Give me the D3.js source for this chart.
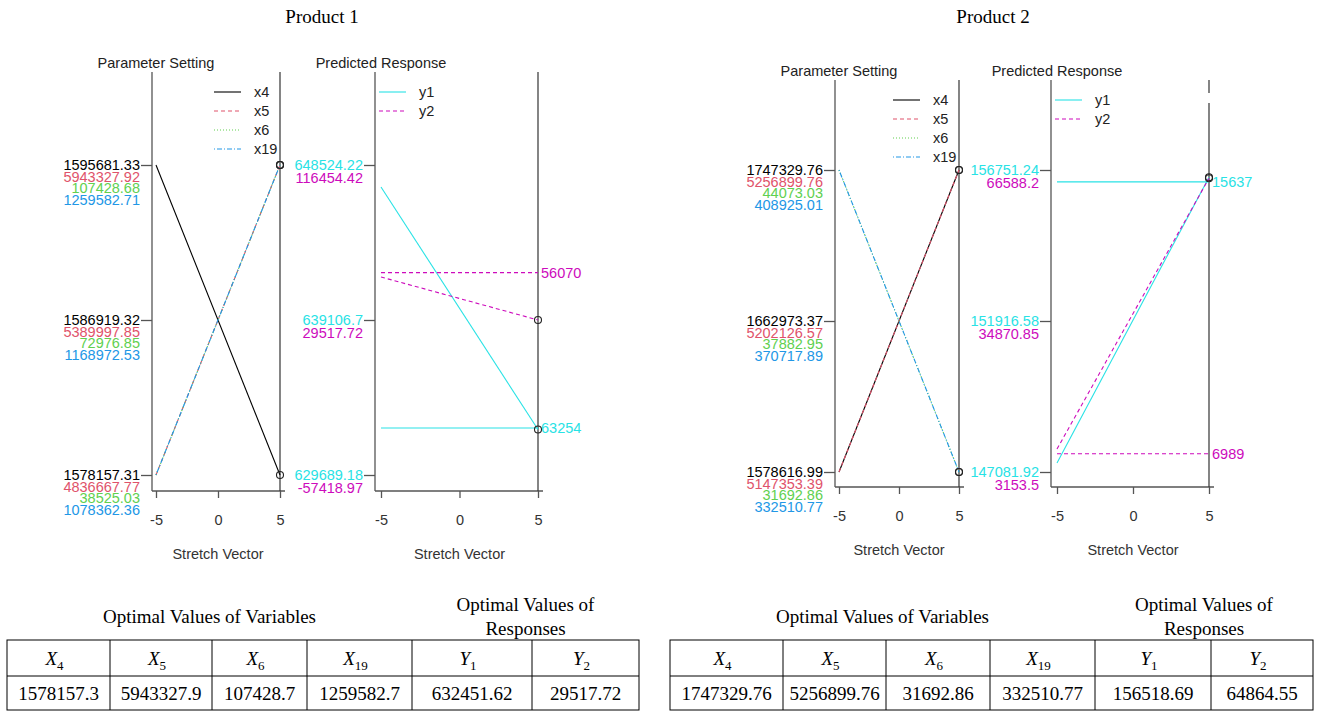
<!DOCTYPE html>
<html>
<head>
<meta charset="utf-8">
<script src="https://cdnjs.cloudflare.com/ajax/libs/d3/7.8.5/d3.min.js"></script>
<style>
  body { margin: 0; background: #fff; }
  svg text { font-family: "Liberation Sans", Arial, sans-serif; }
  svg text.serif { font-family: "Liberation Serif", "Times New Roman", serif; }
</style>
</head>
<body>
<script>
// ---- data ----
const productNames = ["Product 1", "Product 2"];
const stretchTicks = [-5, 0, 5];
const paramNames = ["x4", "x5", "x6", "x19"];
const respNames = ["y1", "y2"];

// axis tick values per variable: [low, mid, high]
const p1ParamTicks = [
  [1578157.31, 1586919.32, 1595681.33],
  [4836667.77, 5389997.85, 5943327.92],
  [38525.03, 72976.85, 107428.68],
  [1078362.36, 1168972.53, 1259582.71]
];
const p1RespTicks = [
  [629689.18, 639106.7, 648524.22],
  [-57418.97, 29517.72, 116454.42]
];
const p2ParamTicks = [
  [1578616.99, 1662973.37, 1747329.76],
  [5147353.39, 5202126.57, 5256899.76],
  [31692.86, 37882.95, 44073.03],
  [332510.77, 370717.89, 408925.01]
];
const p2RespTicks = [
  [147081.92, 151916.58, 156751.24],
  [3153.5, 34870.85, 66588.2]
];

// value of each trace at stretch -5 and at stretch 5
const p1ParamPath = [
  [1595681.33, 1578157.31],
  [4836667.77, 5943327.92],
  [38525.03, 107428.68],
  [1078362.36, 1259582.71]
];
const p1RespPath = [
  [647187, 632451.62],
  [53636, 29517.72]
];
const p2ParamPath = [
  [1578616.99, 1747329.76],
  [5147353.39, 5256899.76],
  [44073.03, 31692.86],
  [408925.01, 332510.77]
];
const p2RespPath = [
  [147370, 156518.69],
  [7984, 64864.55]
];

// horizontal reference lines on the response panels, with their (cut) labels
const p1RespRef = [632545, 56070];
const p1RespRefLabel = ["63254", "56070"];
const p2RespRef = [156370, 6989];
const p2RespRefLabel = ["15637", "6989"];

// optimal value tables
const tableHeads = [["X", "4"], ["X", "5"], ["X", "6"], ["X", "19"], ["Y", "1"], ["Y", "2"]];
const p1Optimal = ["1578157.3", "5943327.9", "107428.7", "1259582.7", "632451.62", "29517.72"];
const p2Optimal = ["1747329.76", "5256899.76", "31692.86", "332510.77", "156518.69", "64864.55"];

// ---- styles ----
const paramColors = ["#000000", "#DF536B", "#61D04F", "#2297E6"];
const paramDash = [null, "4,3", "1,2", "1,2,5,2"];
const respColors = ["#28E2E5", "#CD0BBC"];
const respDash = [null, "4,3"];

const products = [
  { name: productNames[0], paramTicks: p1ParamTicks, paramPath: p1ParamPath,
    respTicks: p1RespTicks, respPath: p1RespPath, ref: p1RespRef, refLabel: p1RespRefLabel, optimal: p1Optimal },
  { name: productNames[1], paramTicks: p2ParamTicks, paramPath: p2ParamPath,
    respTicks: p2RespTicks, respPath: p2RespPath, ref: p2RespRef, refLabel: p2RespRefLabel, optimal: p2Optimal }
];

// panel geometry
const layout = [
  { titleX: 322,
    left:  { axisX: 152, x0: 156, x1: 280, yTop: 72, yHi: 165, yLo: 475, yBot: 491 },
    right: { axisX: 375, x0: 381, x1: 538, yTop: 72, yHi: 165, yLo: 475, yBot: 491 },
    table: { cols: [7, 110, 212, 307, 412, 532, 639], rows: [640, 676, 710] } },
  { titleX: 993,
    left:  { axisX: 835, x0: 839, x1: 959, yTop: 80, yHi: 170, yLo: 472, yBot: 487 },
    right: { axisX: 1051, x0: 1057, x1: 1209, yTop: 80, yHi: 170, yLo: 472, yBot: 487, gap: [93, 103] },
    table: { cols: [670, 783, 886, 990, 1095, 1211, 1313], rows: [640, 676, 710] } }
];

const axisColor = "#555";
const svg = d3.select("body").append("svg")
  .attr("width", 1320).attr("height", 711);

// plain hyphen for negatives, like the original
function fmt(v) {
  return String(Math.round(v * 100) / 100);
}

function drawPanel(g, p, title, names, ticks, paths, colors, dashes, labelStep, legendLeft, refs, refLabels) {
  const x = d3.scaleLinear().domain([-5, 5]).range([p.x0, p.x1]);
  const yN = d3.scaleLinear().domain([0, 1]).range([p.yLo, p.yHi]);

  // title
  g.append("text").attr("x", x(-5)).attr("y", p.yTop - 9).attr("dy", "0.35em")
    .attr("text-anchor", "middle").style("font-size", "14.5px").style("fill", "#222")
    .text(title);

  // left axis line + ticks
  g.append("line").attr("x1", p.axisX).attr("x2", p.axisX)
    .attr("y1", p.yTop).attr("y2", p.yBot)
    .style("stroke", axisColor).style("stroke-width", 1.3);
  const yAxis = d3.axisLeft(yN).tickValues([0, 0.5, 1]).tickFormat("").tickSize(11);
  const ya = g.append("g").attr("transform", "translate(" + p.axisX + ",0)").call(yAxis);
  ya.select(".domain").remove();
  ya.selectAll(".tick line").style("stroke", axisColor).style("stroke-width", 1.3);

  // stacked, coloured tick labels
  [0, 0.5, 1].forEach(function (t, ti) {
    names.forEach(function (n, i) {
      g.append("text")
        .attr("x", p.axisX - 12)
        .attr("y", yN(t) + i * labelStep)
        .attr("dy", "0.35em")
        .attr("text-anchor", "end")
        .style("font-size", "14.5px")
        .style("fill", colors[i])
        .text(fmt(ticks[i][ti]));
    });
  });

  // bottom axis
  const xAxis = d3.axisBottom(x).tickValues(stretchTicks).tickFormat(fmt).tickSize(7).tickSizeOuter(0);
  const xa = g.append("g").attr("transform", "translate(0," + p.yBot + ")").call(xAxis);
  xa.select(".domain").attr("d", "M" + p.axisX + ",0H" + (p.x1 + 5))
    .style("stroke", axisColor).style("stroke-width", 1.3);
  xa.selectAll(".tick line").style("stroke", axisColor).style("stroke-width", 1.3);
  xa.selectAll(".tick text").attr("y", 24).style("font-size", "14.5px").style("fill", "#333")
    .style("font-family", "'Liberation Sans', Arial, sans-serif");

  g.append("text").attr("x", x(0)).attr("y", p.yBot + 68)
    .attr("text-anchor", "middle").style("font-size", "14.5px").style("fill", "#333")
    .text("Stretch Vector");

  // vertical line at stretch = 5
  if (p.gap) {
    g.append("line").attr("x1", x(5)).attr("x2", x(5)).attr("y1", p.yTop).attr("y2", p.gap[0])
      .style("stroke", "#333").style("stroke-width", 1.2);
    g.append("line").attr("x1", x(5)).attr("x2", x(5)).attr("y1", p.gap[1]).attr("y2", p.yBot)
      .style("stroke", "#333").style("stroke-width", 1.2);
  } else {
    g.append("line").attr("x1", x(5)).attr("x2", x(5)).attr("y1", p.yTop).attr("y2", p.yBot)
      .style("stroke", "#333").style("stroke-width", 1.2);
  }

  // traces
  names.forEach(function (n, i) {
    const y = d3.scaleLinear().domain([ticks[i][0], ticks[i][2]]).range([p.yLo, p.yHi]);
    const line = d3.line().x(d => x(d[0])).y(d => y(d[1]));

    if (refs) {
      g.append("path").attr("d", line([[-5, refs[i]], [5, refs[i]]]))
        .style("fill", "none").style("stroke", colors[i]).style("stroke-width", 1.1)
        .style("stroke-dasharray", dashes[i]);
      g.append("text").attr("x", x(5) + 3).attr("y", y(refs[i])).attr("dy", "0.35em")
        .style("font-size", "14.5px").style("fill", colors[i]).text(refLabels[i]);
    }

    g.append("path").attr("d", line([[-5, paths[i][0]], [5, paths[i][1]]]))
      .style("fill", "none").style("stroke", colors[i]).style("stroke-width", 1.1)
      .style("stroke-dasharray", dashes[i]);

    g.append("circle").attr("cx", x(5)).attr("cy", y(paths[i][1])).attr("r", 3.5)
      .style("fill", "none").style("stroke", "#222").style("stroke-width", 1.1);
  });

  // legend
  const lx = legendLeft ? p.axisX + 4 : x(5) - 66;
  names.forEach(function (n, i) {
    const ly = p.yTop + 20 + i * 19;
    g.append("line").attr("x1", lx).attr("x2", lx + 27).attr("y1", ly).attr("y2", ly)
      .style("stroke", colors[i]).style("stroke-width", 1.1).style("stroke-dasharray", dashes[i]);
    g.append("text").attr("x", lx + 40).attr("y", ly).attr("dy", "0.35em")
      .style("font-size", "14.5px").style("fill", "#222").text(n);
  });
}

function drawTable(g, t, values) {
  const c = t.cols, r = t.rows;
  g.append("text").attr("class", "serif").attr("x", (c[0] + c[4]) / 2).attr("y", 616)
    .attr("dy", "0.35em").attr("text-anchor", "middle").style("font-size", "19px")
    .text("Optimal Values of Variables");
  g.append("text").attr("class", "serif").attr("x", (c[4] + c[6]) / 2).attr("y", 604)
    .attr("dy", "0.35em").attr("text-anchor", "middle").style("font-size", "19px")
    .text("Optimal Values of");
  g.append("text").attr("class", "serif").attr("x", (c[4] + c[6]) / 2).attr("y", 628)
    .attr("dy", "0.35em").attr("text-anchor", "middle").style("font-size", "19px")
    .text("Responses");

  g.append("rect").attr("x", c[0]).attr("y", r[0]).attr("width", c[6] - c[0]).attr("height", r[2] - r[0])
    .style("fill", "none").style("stroke", "#000").style("stroke-width", 1);
  g.append("line").attr("x1", c[0]).attr("x2", c[6]).attr("y1", r[1]).attr("y2", r[1])
    .style("stroke", "#000").style("stroke-width", 1);
  c.slice(1, 6).forEach(function (cx) {
    g.append("line").attr("x1", cx).attr("x2", cx).attr("y1", r[0]).attr("y2", r[2])
      .style("stroke", "#000").style("stroke-width", 1);
  });

  tableHeads.forEach(function (h, i) {
    const cx = (c[i] + c[i + 1]) / 2;
    const tx = g.append("text").attr("class", "serif").attr("x", cx - 4).attr("y", (r[0] + r[1]) / 2)
      .attr("dy", "0.35em").attr("text-anchor", "middle").style("font-size", "19px");
    tx.append("tspan").style("font-style", "italic").text(h[0]);
    tx.append("tspan").attr("dy", "5").style("font-size", "13px").text(h[1]);
  });
  values.forEach(function (v, i) {
    g.append("text").attr("class", "serif").attr("x", (c[i] + c[i + 1]) / 2).attr("y", (r[1] + r[2]) / 2)
      .attr("dy", "0.35em").attr("text-anchor", "middle").style("font-size", "19px").text(v);
  });
}

products.forEach(function (prod, k) {
  const L = layout[k];
  const g = svg.append("g");
  g.append("text").attr("class", "serif").attr("x", L.titleX).attr("y", 16).attr("dy", "0.35em")
    .attr("text-anchor", "middle").style("font-size", "19px").text(prod.name);

  drawPanel(g, L.left, "Parameter Setting", paramNames, prod.paramTicks, prod.paramPath,
    paramColors, paramDash, 11.5, false, null, null);
  drawPanel(g, L.right, "Predicted Response", respNames, prod.respTicks, prod.respPath,
    respColors, respDash, 13, true, prod.ref, prod.refLabel);
  drawTable(g, L.table, prod.optimal);
});
</script>
</body>
</html>
